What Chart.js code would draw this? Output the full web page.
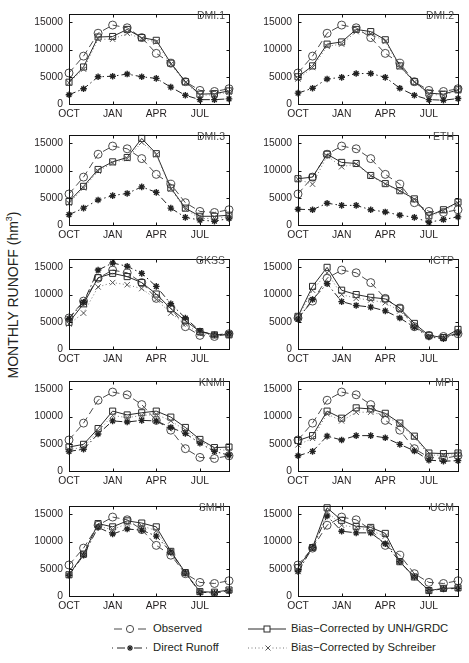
<!DOCTYPE html>
<html><head><meta charset="utf-8">
<script src="https://cdn.jsdelivr.net/npm/chart.js@4"></script>
<style>
html,body{margin:0;padding:0;background:#fff;}
body{width:469px;height:663px;position:relative;overflow:hidden;font-family:'Liberation Sans',Arial,sans-serif;color:#231f20;}
canvas{position:absolute;z-index:1;}
.plbl{position:absolute;z-index:2;font-size:10.5px;line-height:11px;color:#4a4a4a;text-align:right;white-space:nowrap;}
.ytitle{position:absolute;left:13px;top:295px;transform:translate(-50%,-50%) rotate(-90deg);font-size:14px;white-space:nowrap;color:#231f20;}
.ytitle sup{font-size:9px;vertical-align:6px;line-height:0;}
.leg{position:absolute;font-size:11.3px;line-height:13px;white-space:nowrap;color:#231f20;}
svg{position:absolute;left:0;top:0;}
</style></head><body>
<div class="ytitle">MONTHLY RUNOFF (hm<sup>3</sup>)</div>
<svg width="469" height="663">
  <line x1="114" y1="629" x2="149" y2="629" stroke="#4a4a4a" stroke-width="1" stroke-dasharray="8 4"/>
  <circle cx="130" cy="629" r="3.6" fill="#fff" stroke="#4a4a4a" stroke-width="1"/>
  <line x1="112" y1="648" x2="149" y2="648" stroke="#222" stroke-width="1" stroke-dasharray="1 4 8 4"/>
  <g stroke="#222" stroke-width="1.2"><line x1="127" y1="648" x2="133" y2="648"/><line x1="130" y1="645" x2="130" y2="651"/><line x1="128" y1="646" x2="132" y2="650"/><line x1="132" y1="646" x2="128" y2="650"/></g>
  <line x1="248" y1="629" x2="286" y2="629" stroke="#2a2a2a" stroke-width="1"/>
  <rect x="264" y="626" width="6" height="6" fill="#fff" stroke="#2a2a2a" stroke-width="1"/>
  <line x1="248" y1="648" x2="287" y2="648" stroke="#777" stroke-width="1" stroke-dasharray="1 2.5"/>
  <rect x="265" y="645" width="6" height="6" fill="#fff" stroke="none"/>
  <g stroke="#555" stroke-width="1"><line x1="265.5" y1="645.5" x2="270.5" y2="650.5"/><line x1="270.5" y1="645.5" x2="265.5" y2="650.5"/></g>
</svg>
<div class="leg" style="left:153px;top:622px;">Observed</div>
<div class="leg" style="left:153px;top:641px;">Direct Runoff</div>
<div class="leg" style="left:291px;top:622px;">Bias−Corrected by UNH/GRDC</div>
<div class="leg" style="left:291px;top:641px;">Bias−Corrected by Schreiber</div>
<script>
// ---------- data ----------
const MONTHS = ['OCT','NOV','DEC','JAN','FEB','MAR','APR','MAY','JUN','JUL','AUG','SEP'];
const X_TICK_LABELS = ['OCT','JAN','APR','JUL'];
const Y_TICKS = [0, 5000, 10000, 15000];
const Y_MAX = 16500;

const observed = [5700, 8800, 13000, 14500, 14000, 12200, 9300, 7500, 4100, 2500, 2300, 2800];

const unh_DMI1    = [4000, 6800, 12300, 12400, 13700, 12200, 11700, 7500, 4100, 1800, 1900, 2400];
const direct_DMI1 = [1700, 2800, 5000, 5100, 5500, 5000, 4700, 3100, 1600, 800, 800, 950];
const schr_DMI1   = [3900, 6400, 11900, 11900, 13000, 12000, 11400, 7300, 3900, 1600, 1700, 2200];

const unh_DMI2    = [5000, 7000, 11000, 11400, 13700, 13300, 11800, 7000, 4100, 2000, 1800, 2600];
const direct_DMI2 = [2000, 2900, 4600, 4900, 5600, 5600, 4900, 2900, 1600, 800, 700, 1000];
const schr_DMI2   = [4600, 6700, 10600, 11000, 13300, 12900, 11500, 6800, 4000, 1800, 1600, 2500];

const unh_DMI3    = [4300, 7100, 10200, 11600, 12400, 15900, 13100, 6800, 3100, 1600, 1600, 1800];
const direct_DMI3 = [1900, 3100, 4600, 5400, 5800, 7000, 6000, 3100, 1400, 900, 700, 1200];
const schr_DMI3   = [4000, 6800, 9900, 11400, 12200, 15200, 12900, 6600, 2900, 1200, 1200, 1500];

const unh_ETH     = [8500, 8800, 13000, 11500, 11300, 9100, 7600, 6300, 4800, 1700, 2800, 4200];
const direct_ETH  = [2900, 2800, 4000, 3600, 3600, 2800, 2400, 1800, 1400, 500, 1000, 1500];
const schr_ETH    = [8400, 7500, 12700, 10700, 11200, 9000, 7500, 6200, 4700, 1500, 2600, 4000];

const unh_GKSS    = [4900, 8300, 13100, 13900, 13300, 12200, 10100, 7400, 5200, 3200, 2600, 2600];
const direct_GKSS = [5600, 8600, 14500, 15800, 15200, 13900, 11500, 8300, 5700, 3300, 2600, 2800];
const schr_GKSS   = [4600, 6600, 11400, 12200, 11800, 11100, 9100, 6600, 4600, 2800, 2600, 2600];

const unh_ICTP    = [6000, 11500, 15000, 10800, 10000, 9500, 9200, 7500, 4700, 2500, 2100, 3600];
const direct_ICTP = [5500, 9100, 12000, 8700, 8000, 7700, 7000, 5700, 4000, 2200, 1900, 2900];
const schr_ICTP   = [5800, 10800, 14000, 10000, 9300, 9000, 8500, 7000, 4300, 2300, 2100, 3200];

const unh_KNMI    = [4400, 4900, 7800, 11000, 10300, 10700, 11000, 9900, 8000, 5800, 4300, 4400];
const direct_KNMI = [3600, 4000, 6800, 9200, 9000, 9300, 9200, 8000, 6900, 5100, 3600, 2900];
const schr_KNMI   = [3900, 4400, 7300, 10200, 9800, 10200, 10400, 9200, 7500, 5500, 4100, 3700];

const unh_MPI     = [5600, 6500, 11000, 9700, 11600, 11400, 10600, 8800, 6400, 3300, 3200, 3300];
const direct_MPI  = [2800, 3600, 6400, 5700, 6500, 6500, 6100, 4900, 3700, 2000, 1800, 1900];
const schr_MPI    = [4800, 6000, 10500, 9200, 10800, 10800, 10200, 8500, 6200, 2900, 2900, 3000];

const unh_SMHI    = [3900, 7700, 13300, 12700, 13800, 13400, 12700, 8200, 4300, 800, 700, 1100];
const direct_SMHI = [3800, 7500, 12600, 11400, 12300, 12100, 11000, 8100, 4200, 700, 550, 950];
const schr_SMHI   = [3800, 7600, 12800, 12200, 13300, 12900, 12000, 7900, 4200, 800, 650, 1050];

const unh_UCM     = [5200, 8900, 16200, 13900, 12800, 12600, 11500, 6300, 3500, 1000, 1400, 1500];
const direct_UCM  = [4500, 8900, 14700, 11900, 11600, 11600, 9600, 6300, 3500, 1000, 1300, 1400];
const schr_UCM    = [4500, 8800, 15500, 13000, 12600, 12000, 11000, 6200, 3400, 950, 1300, 1450];

const MODEL_NAMES = ['DMI.1','DMI.2','DMI.3','ETH','GKSS','ICTP','KNMI','MPI','SMHI','UCM'];
const UNH = [unh_DMI1, unh_DMI2, unh_DMI3, unh_ETH, unh_GKSS, unh_ICTP, unh_KNMI, unh_MPI, unh_SMHI, unh_UCM];
const DIRECT = [direct_DMI1, direct_DMI2, direct_DMI3, direct_ETH, direct_GKSS, direct_ICTP, direct_KNMI, direct_MPI, direct_SMHI, direct_UCM];
const SCHR = [schr_DMI1, schr_DMI2, schr_DMI3, schr_ETH, schr_GKSS, schr_ICTP, schr_KNMI, schr_MPI, schr_SMHI, schr_UCM];

// ---------- layout ----------
const COLS = [69, 298];
const ROWS = [6, 127, 251, 373, 498];
const PW = 160, PH = 98;
const AXW = 52, AXH = 22, PADT = 4, PADR = 8;

Chart.defaults.font.family = "'Liberation Sans', Arial, sans-serif";
Chart.defaults.font.size = 10.3;
Chart.defaults.color = '#231f20';

const framePlugin = {
  id: 'frame',
  afterDatasetsDraw(chart) {
    const {ctx, chartArea: a, scales: {x, y}} = chart;
    ctx.save();
    ctx.strokeStyle = '#111';
    ctx.lineWidth = 1;
    const l = Math.round(a.left) + 0.5, t = Math.round(a.top) + 0.5;
    const r = Math.round(a.right) + 0.5, b = Math.round(a.bottom) + 0.5;
    ctx.strokeRect(l, t, r - l, b - t);
    const L = 3;
    ctx.beginPath();
    Y_TICKS.forEach(v => {
      const yy = Math.round(y.getPixelForValue(v)) + 0.5;
      ctx.moveTo(l, yy); ctx.lineTo(l + L, yy);
      ctx.moveTo(r, yy); ctx.lineTo(r - L, yy);
    });
    MONTHS.forEach((m, i) => {
      if (!X_TICK_LABELS.includes(m)) return;
      const xx = Math.round(x.getPixelForValue(i)) + 0.5;
      ctx.moveTo(xx, b); ctx.lineTo(xx, b - L);
      ctx.moveTo(xx, t); ctx.lineTo(xx, t + L);
    });
    ctx.stroke();
    ctx.restore();
  }
};

MODEL_NAMES.forEach((name, i) => {
  const px = COLS[i % 2], py = ROWS[Math.floor(i / 2)];
  const cv = document.createElement('canvas');
  cv.width = AXW + PW + PADR;
  cv.height = PADT + PH + AXH;
  cv.style.left = (px - AXW) + 'px';
  cv.style.top = (py - PADT) + 'px';
  cv.style.width = cv.width + 'px';
  cv.style.height = cv.height + 'px';
  document.body.appendChild(cv);

  const lbl = document.createElement('div');
  lbl.className = 'plbl';
  lbl.textContent = name;
  lbl.style.left = px + 'px';
  lbl.style.width = (PW - 4) + 'px';
  lbl.style.top = (py + 4) + 'px';
  document.body.appendChild(lbl);

  new Chart(cv, {
    type: 'line',
    data: {
      labels: MONTHS,
      datasets: [
        { label: 'Bias−Corrected by Schreiber', data: SCHR[i], borderColor: '#777', borderWidth: 1,
          borderDash: [1, 2.5], pointStyle: 'crossRot', pointRadius: 3.8, pointBorderColor: '#555',
          pointBorderWidth: 1, pointBackgroundColor: 'rgba(0,0,0,0)', fill: false, tension: 0, clip: false },
        { label: 'Direct Runoff', data: DIRECT[i], borderColor: '#222', borderWidth: 1,
          borderDash: [7, 3, 1.5, 3], pointStyle: 'star', pointRadius: 3.3, pointBorderColor: '#222',
          pointBorderWidth: 1.4, pointBackgroundColor: 'rgba(0,0,0,0)', fill: false, tension: 0, clip: false },
        { label: 'Bias−Corrected by UNH/GRDC', data: UNH[i], borderColor: '#2a2a2a', borderWidth: 1,
          pointStyle: 'rect', pointRadius: 4.3, pointBorderColor: '#2a2a2a', pointBorderWidth: 1,
          pointBackgroundColor: 'rgba(0,0,0,0)', fill: false, tension: 0, clip: false },
        { label: 'Observed', data: observed, borderColor: '#4a4a4a', borderWidth: 1,
          borderDash: [7, 4], pointStyle: 'circle', pointRadius: 4, pointBorderColor: '#4a4a4a',
          pointBorderWidth: 1, pointBackgroundColor: 'rgba(0,0,0,0)', fill: false, tension: 0, clip: false }
      ]
    },
    options: {
      responsive: false,
      animation: false,
      devicePixelRatio: 1,
      layout: { padding: { left: 0, top: PADT, right: PADR, bottom: 0 } },
      plugins: { legend: { display: false }, tooltip: { enabled: false } },
      scales: {
        x: {
          type: 'category',
          offset: false,
          grid: { display: false, drawTicks: false },
          border: { display: false },
          ticks: {
            autoSkip: false, maxRotation: 0, minRotation: 0, padding: 4,
            callback: function (v, idx) { const m = MONTHS[idx]; return X_TICK_LABELS.includes(m) ? m : ''; }
          },
          afterFit: s => { s.height = AXH; }
        },
        y: {
          min: 0, max: Y_MAX,
          grid: { display: false, drawTicks: false },
          border: { display: false },
          ticks: { padding: 6, callback: v => String(v) },
          afterBuildTicks: s => { s.ticks = Y_TICKS.map(v => ({ value: v })); },
          afterFit: s => { s.width = AXW; }
        }
      }
    },
    plugins: [framePlugin]
  });
});
</script>
</body></html>
